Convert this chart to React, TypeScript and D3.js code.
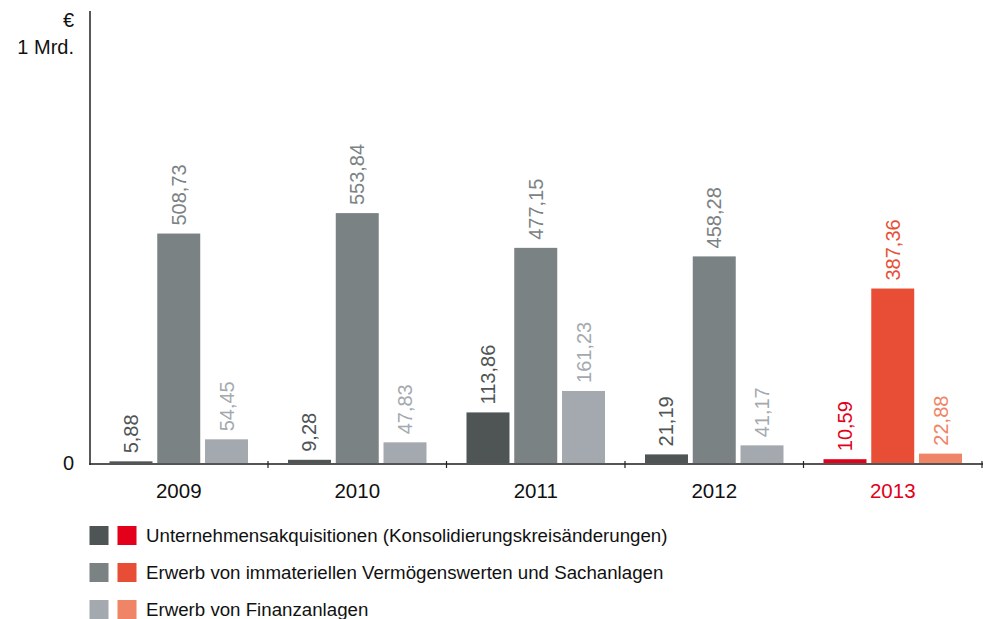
import React from "react";
import * as d3 from "d3";

const years = ["2009", "2010", "2011", "2012", "2013"];
const acquisitions = [5.88, 9.28, 113.86, 21.19, 10.59];
const intangibles = [508.73, 553.84, 477.15, 458.28, 387.36];
const financial = [54.45, 47.83, 161.23, 41.17, 22.88];
const yTickLabels = ["0", "1 Mrd."];
const unitLabel = "€";
const legendLabels = [
  "Unternehmensakquisitionen (Konsolidierungskreisänderungen)",
  "Erwerb von immateriellen Vermögenswerten und Sachanlagen",
  "Erwerb von Finanzanlagen",
];

const greyColors = ["#4f5455", "#7b8284", "#a3a9ae"];
const redColors = ["#e2001a", "#e84e35", "#ef8466"];
const highlightYear = "2013";

const W = 983;
const H = 619;
const FONT = "Helvetica, Arial, 'Liberation Sans', sans-serif";

export default function App() {
  const x0 = d3.scaleBand<string>().domain(years).range([89.5, 982]).paddingInner(0).paddingOuter(0);
  const series = [acquisitions, intangibles, financial];
  const x1 = d3
    .scaleBand<number>()
    .domain([0, 1, 2])
    .range([20, x0.bandwidth() - 20])
    .paddingInner(0.1);
  const y = d3.scaleLinear().domain([0, 1000]).range([464, 11]);
  const fmt = (v: number) => d3.format(".2f")(v).replace(".", ",");

  return (
    <svg
      width={W}
      height={H}
      style={{ position: "absolute", left: 0, top: 0, background: "#fff" }}
      fontFamily={FONT}
    >
      {years.map((yr, i) => {
        const colors = yr === highlightYear ? redColors : greyColors;
        const bx = x0(yr)!;
        return (
          <g key={yr}>
            {series.map((s, k) => {
              const v = s[i];
              const xx = bx + x1(k)!;
              const bw = x1.bandwidth();
              const top = y(v);
              const cx = xx + bw / 2;
              return (
                <g key={k}>
                  <rect x={xx} y={top} width={bw} height={y(0) - top} fill={colors[k]} />
                  <text
                    transform={`translate(${cx + 7},${top - 8}) rotate(-90)`}
                    fontSize={20}
                    fill={colors[k]}
                    textAnchor="start"
                  >
                    {fmt(v)}
                  </text>
                </g>
              );
            })}
            <text
              x={bx + x0.bandwidth() / 2}
              y={498}
              fontSize={20.5}
              textAnchor="middle"
              fill={yr === highlightYear ? "#e2001a" : "#111"}
            >
              {yr}
            </text>
          </g>
        );
      })}
      {/* x axis */}
      <line x1={89.5} x2={983} y1={464} y2={464} stroke="#555" strokeWidth={2} />
      {years.map((yr) => {
        const tx = x0(yr)! + x0.bandwidth();
        return <line key={"t" + yr} x1={tx} x2={tx} y1={461} y2={468} stroke="#222" strokeWidth={1.2} />;
      })}
      {/* y axis */}
      <line x1={90} x2={90} y1={11} y2={465} stroke="#222" strokeWidth={1.5} />
      <text x={74} y={27} fontSize={20} textAnchor="end" fill="#111">
        {unitLabel}
      </text>
      <text x={74} y={y(1000) + 43} fontSize={20} textAnchor="end" fill="#111">
        {yTickLabels[1]}
      </text>
      <text x={74} y={y(0) + 6} fontSize={20} textAnchor="end" fill="#111">
        {yTickLabels[0]}
      </text>
      {/* legend */}
      {legendLabels.map((lab, k) => {
        const ly = 526 + k * 37;
        return (
          <g key={lab}>
            <rect x={89.5} y={ly} width={19} height={19} fill={greyColors[k]} />
            <rect x={117.5} y={ly} width={19} height={19} fill={redColors[k]} />
            <text x={146} y={ly + 16} fontSize={18.7} fill="#111">
              {lab}
            </text>
          </g>
        );
      })}
    </svg>
  );
}
